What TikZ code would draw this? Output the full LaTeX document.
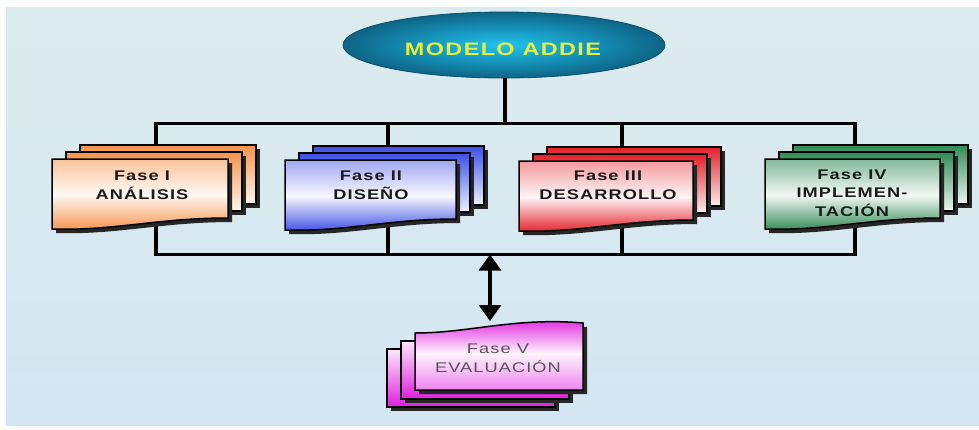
\documentclass[tikz,border=0pt]{standalone}
\usepackage{fontspec}
\setmainfont{Liberation Sans}
\newfontfamily\lblfont{Liberation Sans}[LetterSpace=6]
\usetikzlibrary{arrows.meta,shapes.geometric}
\definecolor{bgtop}{HTML}{DCEBEE}
\definecolor{bgbot}{HTML}{D3E6F2}
\definecolor{ellin}{HTML}{20C4F0}
\definecolor{ellout}{HTML}{0D6486}
\definecolor{titletxt}{HTML}{E4F03C}
\definecolor{txtdark}{HTML}{1A1A1A}
\definecolor{txtgray}{HTML}{555555}
\definecolor{cOr}{HTML}{F5924A}
\definecolor{cBl}{HTML}{3D4EE6}
\definecolor{cRd}{HTML}{E51E28}
\definecolor{cGr}{HTML}{2F8A55}
\definecolor{cMg}{HTML}{E01EE0}
\newcommand\widen[1]{\scalebox{1.3}[1]{#1}}
\newcommand\flatsheet[5]{%
  \fill[sheetshadow] ({#1+4},{#2+4}) rectangle ({#1+#3+4},{#2+#4+4});
  \draw[sheetedge,#5] (#1,#2) rectangle ({#1+#3},{#2+#4});}
\newcommand\wavesheet[5]{%
  \fill[sheetshadow,shift={(4,4)}] (#1,#2) -- ({#1+#3},#2) -- ({#1+#3},{#2+#4})
     .. controls ({#1+0.6*#3},{#2+#4}) and ({#1+0.35*#3},{#2+#4+13}) .. (#1,{#2+#4+11}) -- cycle;
  \draw[sheetedge,#5] (#1,#2) -- ({#1+#3},#2) -- ({#1+#3},{#2+#4})
     .. controls ({#1+0.6*#3},{#2+#4}) and ({#1+0.35*#3},{#2+#4+13}) .. (#1,{#2+#4+11}) -- cycle;}
\newcommand\sheetstack[6]{%
  \flatsheet{#1+28}{#2-14}{#3}{#4}{#6}
  \flatsheet{#1+14}{#2-7}{#3}{#4}{#6}
  \wavesheet{#1}{#2}{#3}{#4}{#5}}
\tikzset{
  sheetshadow/.style={fill=black!85},
  sheetedge/.style={draw=black, line width=1.5pt, line join=miter},
  conn/.style={draw=black, line width=3.2pt},
  lbl/.style={align=center, text=txtdark, inner sep=0pt,
    font=\lblfont\bfseries\fontsize{14}{18.5}\selectfont},
  orfront/.style={top color=cOr!55, bottom color=cOr, middle color=cOr!6},
  orback/.style={top color=cOr, bottom color=cOr!8},
  blfront/.style={top color=cBl!50, bottom color=cBl, middle color=cBl!4},
  blback/.style={top color=cBl, bottom color=cBl!8},
  rdfront/.style={top color=cRd!45, bottom color=cRd, middle color=cRd!5},
  rdback/.style={top color=cRd, bottom color=cRd!8},
  grfront/.style={top color=cGr!60, bottom color=cGr, middle color=cGr!6},
  grback/.style={top color=cGr, bottom color=cGr!8},
  mgfront/.style={top color=cMg, bottom color=cMg!55, middle color=cMg!5},
  mgback/.style={top color=cMg!10, bottom color=cMg},
}
\begin{document}
\begin{tikzpicture}[x=1pt,y=-1pt]
\useasboundingbox (0,0) rectangle (979,429);
\fill[white] (0,0) rectangle (979,429);
\shade[top color=bgtop, bottom color=bgbot] (6,7) rectangle (979,425);
% connectors
\node[ellipse, minimum width=322pt, minimum height=66pt, inner sep=0pt,
      inner color=ellin, outer color=ellout, draw=ellout!80!black, line width=0.8pt]
      (title) at (504,45) {};
\node[text=titletxt, font=\lblfont\bfseries\fontsize{18}{20}\selectfont] (titletext) at (503,49) {\widen{MODELO ADDIE}};
\coordinate (jt) at (505,123.5);
\coordinate (c1t) at (156,123.5);
\coordinate (c2t) at (388,123.5);
\coordinate (c3t) at (622,123.5);
\coordinate (c4t) at (855,123.5);
\coordinate (c1b) at (156,254.5);
\coordinate (c2b) at (388,254.5);
\coordinate (c3b) at (622,254.5);
\coordinate (c4b) at (855,254.5);
\coordinate (jb) at (490,254.5);
\coordinate (v5t) at (490,321);
\draw[conn] (title.south -| jt) -- (jt);
\draw[conn] (c1b) -- (c1t) -- (c4t) -- (c4b) -- cycle;
\draw[conn] (c2t) -- (c2b);
\draw[conn] (c3t) -- (c3b);
% stacks
\sheetstack{52}{159}{176}{59}{orfront}{orback}
\sheetstack{285}{160}{171}{59}{blfront}{blback}
\sheetstack{519}{161}{174}{59}{rdfront}{rdback}
\sheetstack{765}{159}{175}{59}{grfront}{grback}
\node[lbl] (f1) at (142,185) {\widen{Fase I}\\\widen{ANÁLISIS}};
\node[lbl] (f2) at (371,185) {\widen{Fase II}\\\widen{DISEÑO}};
\node[lbl] (f3) at (608,185) {\widen{Fase III}\\\widen{DESARROLLO}};
\node[lbl] (f4) at (852,193) {\widen{Fase IV}\\\widen{IMPLEMEN-}\\\widen{TACIÓN}};
% Fase V stack (inverted)
\flatsheet{387}{349}{168}{58}{mgback}
\flatsheet{401}{341}{168}{58}{mgback}
\fill[sheetshadow,shift={(4,4)}] (415,390) -- (583,390) -- (583,323)
   .. controls (515,317) and (470,333) .. (415,333) -- cycle;
\draw[sheetedge,mgfront] (415,390) -- (583,390) -- (583,323)
   .. controls (515,317) and (470,333) .. (415,333) -- cycle;
\node[lbl, text=txtgray, font=\lblfont\fontsize{14}{19.5}\selectfont] (f5) at (498,358) {\widen{Fase V}\\\widen{EVALUACIÓN}};
% arrow
\draw[line width=3.2pt, {Triangle[width=22pt,length=16pt]}-{Triangle[width=22pt,length=16pt]}] (jb) -- (v5t);
\end{tikzpicture}
\end{document}
